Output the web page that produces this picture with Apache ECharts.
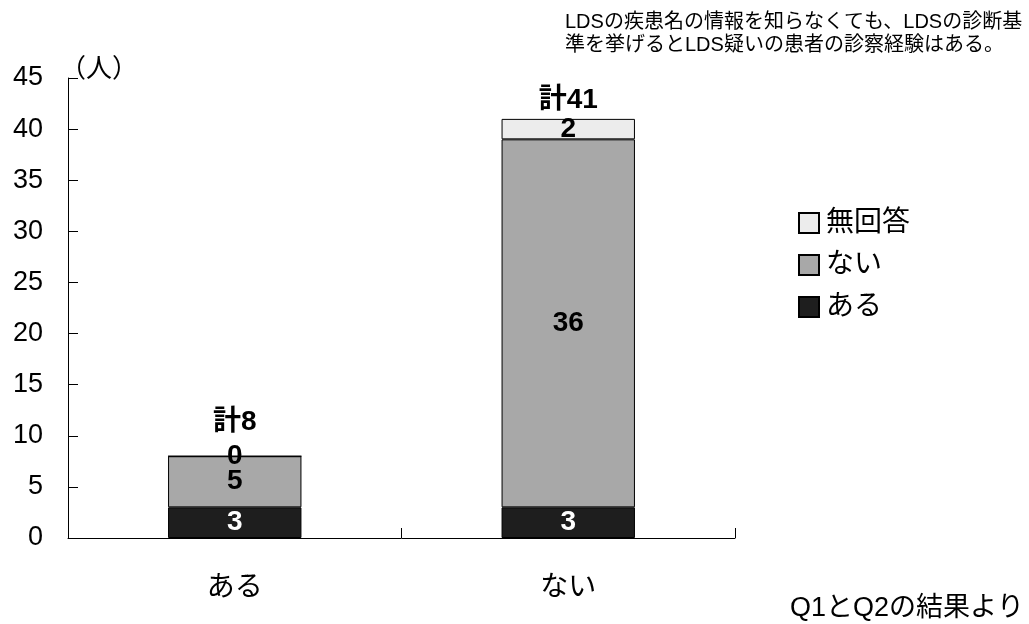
<!DOCTYPE html>
<html>
<head>
<meta charset="utf-8">
<script src="https://cdn.jsdelivr.net/npm/echarts@6/dist/echarts.min.js"></script>
<style>
  html, body { margin: 0; padding: 0; background: #fff; }
  #chart { width: 1029px; height: 624px; }
</style>
</head>
<body>
<div id="chart"></div>
<script>
// Categories and stacked counts
const categories = ['ある', 'ない'];
const seriesAru = [3, 3];       // ある
const seriesNai = [5, 36];      // ない
const seriesNoAnswer = [0, 2];  // 無回答
const totals = [8, 41];
const yTicks = { min: 0, max: 45, interval: 5 };

// Gap between each bar top and its total label
const totalLabelGap = [20, 5];

const FONT = '"Liberation Sans", "Noto Sans CJK JP", sans-serif';
const border = { borderColor: '#000', borderWidth: 1 };
const valueLabel = (color) => ({
  show: true, position: 'inside', fontSize: 28, fontWeight: 'bold', color: color, fontFamily: FONT
});

const chart = echarts.init(document.getElementById('chart'));
chart.setOption({
  animation: false,
  textStyle: { fontFamily: FONT, color: '#000' },
  grid: { left: 68, right: 294, top: 78, bottom: 86 },
  title: [
    {
      text: 'LDSの疾患名の情報を知らなくても、LDSの診断基\n準を挙げるとLDS疑いの患者の診察経験はある。',
      left: 560, top: 6,
      textStyle: { fontFamily: FONT, fontSize: 20, fontWeight: 'normal', color: '#000', lineHeight: 23 }
    },
    {
      text: '（人）',
      left: 55, top: 52,
      textStyle: { fontFamily: FONT, fontSize: 26, fontWeight: 'normal', color: '#000' }
    },
    {
      text: 'Q1とQ2の結果より',
      left: 785, top: 590,
      textStyle: { fontFamily: FONT, fontSize: 27, fontWeight: 'normal', color: '#000' }
    }
  ],
  legend: {
    data: ['無回答', 'ない', 'ある'],
    orient: 'vertical',
    left: 793, top: 204,
    icon: 'rect',
    itemWidth: 20, itemHeight: 20, itemGap: 14,
    textStyle: { fontFamily: FONT, fontSize: 28, color: '#000', padding: [0, 0, 0, 2] }
  },
  xAxis: {
    type: 'category',
    data: categories,
    axisLine: { lineStyle: { color: '#000', width: 1 } },
    axisTick: { show: true, inside: true, length: 10, lineStyle: { color: '#000' } },
    axisLabel: { fontFamily: FONT, fontSize: 28, color: '#000', margin: 36 }
  },
  yAxis: {
    type: 'value',
    min: yTicks.min, max: yTicks.max, interval: yTicks.interval,
    splitLine: { show: false },
    axisLine: { show: true, lineStyle: { color: '#000', width: 1 } },
    axisTick: { show: true, inside: true, length: 10, lineStyle: { color: '#000' } },
    axisLabel: { fontFamily: FONT, fontSize: 27, color: '#000', margin: 25 }
  },
  series: [
    {
      name: 'ある', type: 'bar', stack: 'total', barWidth: '40%',
      data: seriesAru,
      itemStyle: Object.assign({ color: '#1e1e1e' }, border),
      label: valueLabel('#fff')
    },
    {
      name: 'ない', type: 'bar', stack: 'total', barWidth: '40%',
      data: seriesNai,
      itemStyle: Object.assign({ color: '#a8a8a8' }, border),
      label: valueLabel('#000')
    },
    {
      name: '無回答', type: 'bar', stack: 'total', barWidth: '40%',
      data: seriesNoAnswer,
      itemStyle: Object.assign({ color: '#ececec' }, border),
      label: valueLabel('#000')
    },
    {
      // zero-height cap carrying the 計 (total) label above each stack
      name: '計', type: 'bar', stack: 'total', barWidth: '40%',
      data: totals.map((t, i) => ({ value: 0, label: { distance: totalLabelGap[i] } })),
      itemStyle: { color: 'transparent', borderWidth: 0 },
      label: {
        show: true, position: 'top',
        fontSize: 28, fontWeight: 'bold', color: '#000', fontFamily: FONT,
        formatter: p => '計' + totals[p.dataIndex]
      }
    }
  ]
});
</script>
</body>
</html>
